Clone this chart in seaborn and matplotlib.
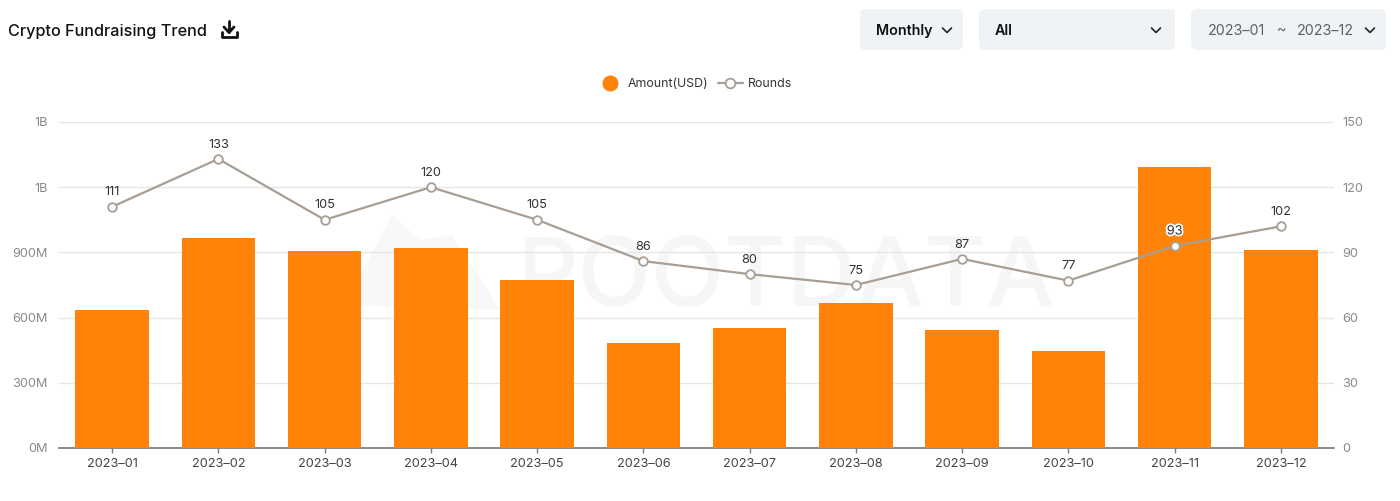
import matplotlib
matplotlib.use('Agg')
import matplotlib.patheffects as pe
import matplotlib.pyplot as plt
import pandas as pd
import seaborn as sns
from matplotlib.lines import Line2D
from matplotlib.patches import FancyBboxPatch, Polygon

# Valores
months = ['2023–01', '2023–02', '2023–03', '2023–04', '2023–05', '2023–06',
          '2023–07', '2023–08', '2023–09', '2023–10', '2023–11', '2023–12']
amount_m = [637, 968, 908, 918, 775, 485, 554, 669, 545, 448, 1293, 913]
rounds = [111, 133, 105, 120, 105, 86, 80, 75, 87, 77, 93, 102]
left_ticks = [0, 300, 600, 900, 1200, 1500]
left_labels = ['0M', '300M', '600M', '900M', '1B', '1B']
right_ticks = [0, 30, 60, 90, 120, 150]

ORANGE = '#ff8308'
LINE = '#a89e94'
GRID = '#e6e6e6'
TICK_TXT = '#8a8a8a'

sns.set_theme(style='white')
plt.rcParams['font.family'] = ['Inter', 'DejaVu Sans']

W, H = 1400, 501
fig = plt.figure(figsize=(W / 100, H / 100), dpi=100, facecolor='white')

# Capa de fondo en pixeles: controles, titulo y marca de agua
ui = fig.add_axes([0, 0, 1, 1], zorder=0)
ui.set_xlim(0, W)
ui.set_ylim(H, 0)
ui.axis('off')

ui.text(8, 31, 'Crypto Fundraising Trend', fontsize=11.7, fontweight='medium',
        color='#111111', va='center', ha='left')

# Icono de descarga
ui.add_line(Line2D([229, 229], [21, 32], color='#111111', lw=2))
ui.add_line(Line2D([224, 229, 234], [27, 32.5, 27], color='#111111', lw=2))
ui.add_line(Line2D([221.5, 221.5, 236.5, 236.5], [32, 36.5, 36.5, 32], color='#111111', lw=2))

for x0, x1 in [(860, 963), (979, 1175), (1191, 1386)]:
    ui.add_patch(FancyBboxPatch((x0 + 6, 15), x1 - x0 - 12, 29,
                                boxstyle='round,pad=6,rounding_size=6',
                                fc='#f0f3f5', ec='none'))

ui.text(876, 31, 'Monthly', fontsize=10.3, fontweight='semibold', color='#111111', va='center')
ui.text(995, 31, 'All', fontsize=10.3, fontweight='semibold', color='#111111', va='center')
ui.text(1208, 31, '2023–01', fontsize=10.3, color='#5c6066', va='center')
ui.text(1277, 31, '~', fontsize=10.3, color='#5c6066', va='center')
ui.text(1297, 31, '2023–12', fontsize=10.3, color='#5c6066', va='center')
for cx in [947, 1156, 1370]:
    ui.add_line(Line2D([cx - 4.5, cx, cx + 4.5], [28, 32.5, 28], color='#222222', lw=1.2))

# Marca de agua
ui.add_patch(Polygon([[345, 305], [392, 215], [420, 240], [452, 235], [500, 310]],
                     closed=True, fc='#f8f8f8', ec='none'))
ui.text(786, 281, 'POOTDATA', fontsize=69, fontweight='medium', color='#f6f6f6',
        ha='center', va='center')

# Grafico principal
left, right, top, bottom = 59, 1334, 122, 448
ax = fig.add_axes([left / W, 1 - bottom / H, (right - left) / W, (bottom - top) / H], zorder=1)
ax.patch.set_alpha(0)

df = pd.DataFrame({'month': months, 'amount': amount_m, 'rounds': rounds})
sns.barplot(data=df, x='month', y='amount', color=ORANGE, saturation=1, width=0.69,
            linewidth=0, ax=ax, zorder=3)
ax.set_xlim(-0.5, 11.5)
ax.set_ylim(0, 1500)
ax.set_yticks(left_ticks, left_labels)
ax.set_xlabel('')
ax.set_ylabel('')
ax.grid(axis='y', color=GRID, lw=1)
ax.set_axisbelow(True)
sns.despine(ax=ax, left=True, right=True, top=True)
ax.spines['bottom'].set_color('#777777')
ax.spines['bottom'].set_linewidth(1.2)
ax.tick_params(axis='x', length=3.5, width=1, color='#777777', labelsize=9.2,
               labelcolor='#444444', pad=4, bottom=True)
ax.tick_params(axis='y', length=0, labelsize=9.2, labelcolor=TICK_TXT, pad=8)

ax2 = ax.twinx()
sns.lineplot(data=df, x='month', y='rounds', sort=False, color=LINE, lw=1.6, marker='o',
             markersize=6.2, markerfacecolor='white', markeredgecolor=LINE,
             markeredgewidth=1.3, ax=ax2, zorder=5)
ax2.set_ylim(0, 150)
ax2.set_yticks(right_ticks)
ax2.set_xlabel('')
ax2.set_ylabel('')
ax2.grid(False)
sns.despine(ax=ax2, left=True, right=True, top=True, bottom=True)
ax2.tick_params(axis='y', length=0, labelsize=9.2, labelcolor=TICK_TXT, pad=6)

for lab in ax.get_yticklabels() + ax2.get_yticklabels():
    lab.set_verticalalignment('center_baseline')

for i, r in enumerate(rounds):
    txt = ax2.annotate(str(r), (i, r), xytext=(0, 6), textcoords='offset points',
                       ha='center', va='bottom', fontsize=9.2, color='#333333', zorder=6)
    if r == 93:
        txt.set_path_effects([pe.withStroke(linewidth=2.5, foreground='white')])

# Leyenda
handles = [
    Line2D([], [], linestyle='none', marker='o', markersize=10.5, color=ORANGE),
    Line2D([], [], color=LINE, lw=1.6, marker='o', markersize=7,
           markerfacecolor='white', markeredgecolor=LINE, markeredgewidth=1.3),
]
fig.legend(handles, ['Amount(USD)', 'Rounds'], loc='center', bbox_to_anchor=(695 / W, 1 - 84 / H),
           ncol=2, frameon=False, fontsize=8.9, labelcolor='#333333', handlelength=2.0,
           handletextpad=0.45, columnspacing=0.75, borderpad=0)

fig.savefig('out.png', dpi=100, facecolor='white')
